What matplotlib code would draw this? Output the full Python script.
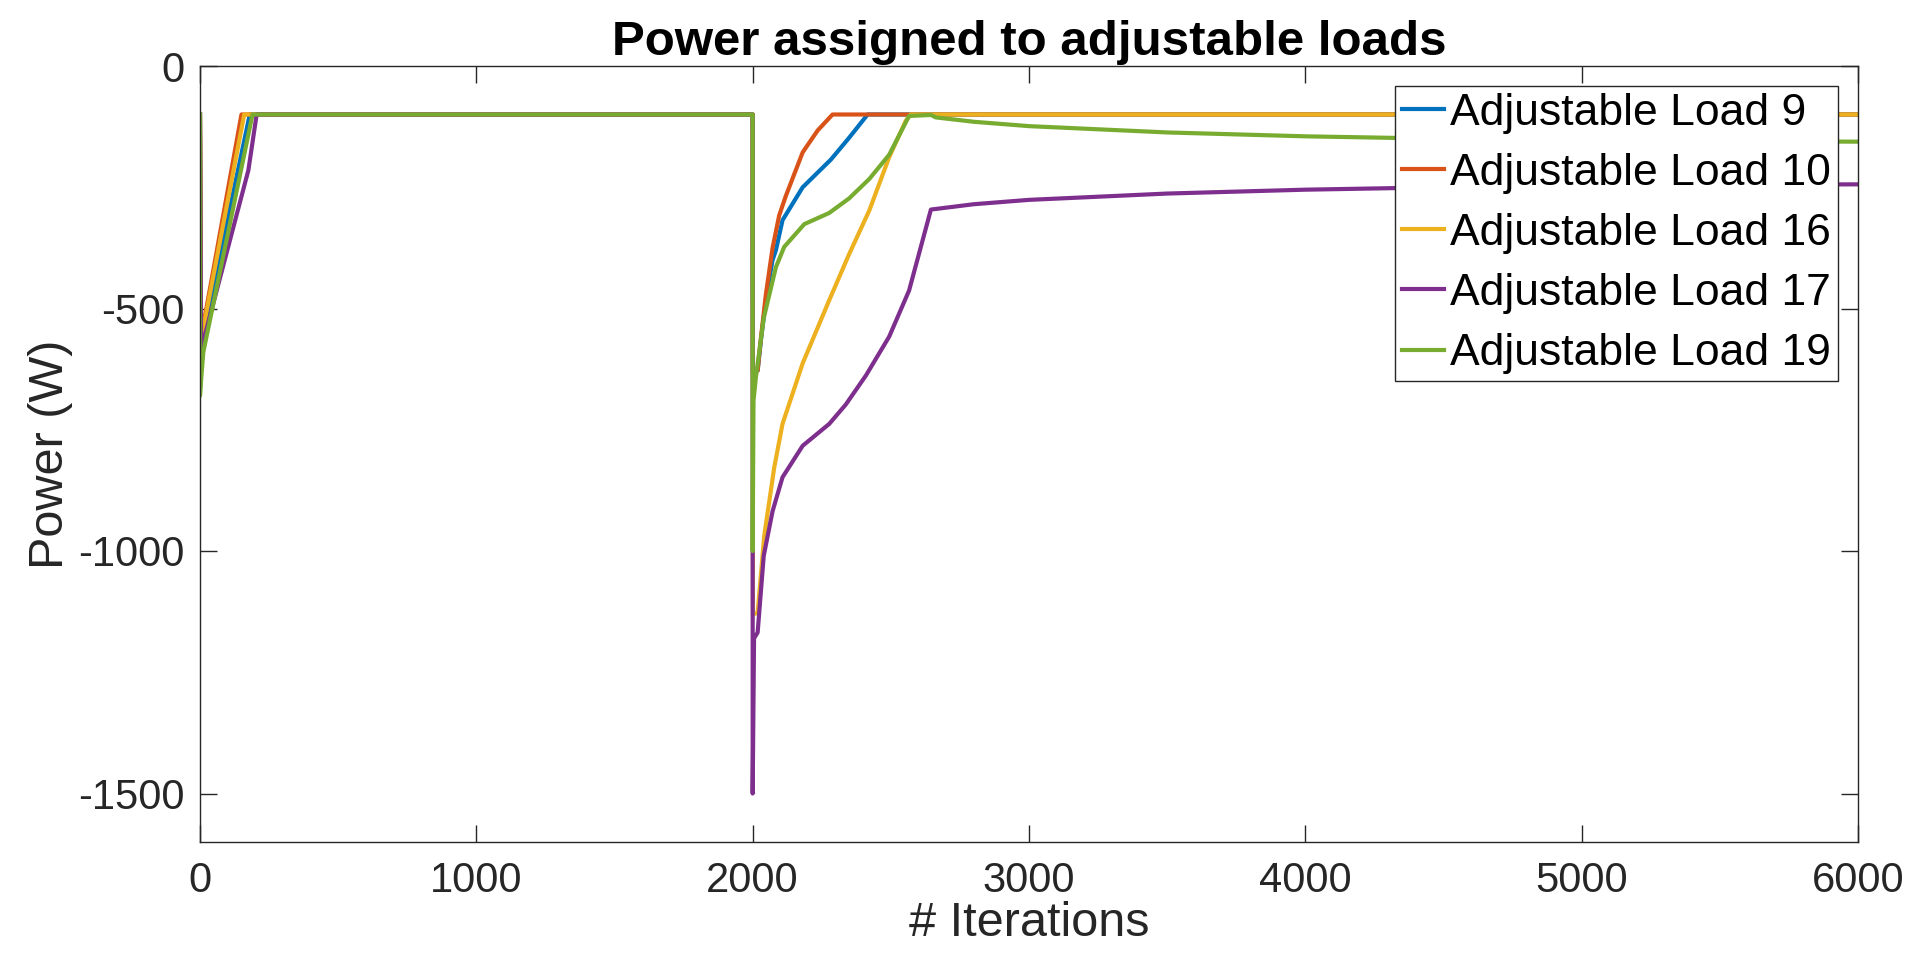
import matplotlib
matplotlib.use('Agg')
import matplotlib.pyplot as plt

plt.rcParams['font.family'] = ['Liberation Sans', 'DejaVu Sans']
plt.rcParams['axes.unicode_minus'] = False

# data
labels = ['Adjustable Load 9', 'Adjustable Load 10', 'Adjustable Load 16',
          'Adjustable Load 17', 'Adjustable Load 19']
colors = ['#0072BD', '#D95319', '#EDB120', '#7E2F8E', '#77AC30']

load9_x = [0, 4, 180, 2000, 2001, 2018, 2030, 2048, 2072, 2084, 2108, 2181, 2283, 2349, 2416, 6000]
load9_y = [-100, -575, -100, -100, -632, -628, -565, -480, -400, -380, -318, -250, -193, -148, -100, -100]

load10_x = [0, 4, 150, 2000, 2001, 2018, 2030, 2048, 2072, 2096, 2120, 2181, 2235, 2289, 6000]
load10_y = [-100, -560, -100, -100, -632, -628, -560, -470, -375, -308, -268, -178, -133, -100, -100]

load16_x = [0, 4, 160, 2000, 2001, 2018, 2042, 2078, 2108, 2181, 2277, 2349, 2422, 2494, 2554, 2572, 6000]
load16_y = [-100, -565, -100, -100, -1130, -1128, -968, -828, -738, -613, -483, -388, -298, -188, -113, -100, -100]

load17_x = [0, 4, 175, 205, 2000, 2000, 2005, 2018, 2040, 2072, 2108, 2181, 2277, 2337, 2410, 2494,
            2566, 2645, 2800, 3000, 3500, 4000, 4500, 5000, 5500, 6000]
load17_y = [-100, -585, -215, -100, -100, -1500, -1180, -1168, -1010, -918, -848, -783, -738, -698, -638, -558,
            -463, -296, -285, -276, -263, -255, -250, -247, -245, -244]

load19_x = [0, 0, 5, 12, 190, 2000, 2000, 2003, 2012, 2040, 2084, 2114, 2187, 2277, 2349, 2422, 2494,
            2566, 2645, 2663, 2800, 3000, 3500, 4000, 4500, 5000, 5500, 6000]
load19_y = [-100, -680, -640, -590, -100, -100, -1000, -690, -640, -520, -415, -373, -326, -303, -273, -233, -183,
            -103, -101, -106, -115, -124, -137, -145, -150, -153, -155, -156]

xs = [load9_x, load10_x, load16_x, load17_x, load19_x]
ys = [load9_y, load10_y, load16_y, load17_y, load19_y]

fig = plt.figure(figsize=(19.16, 9.69), dpi=100)
ax = fig.add_axes([200 / 1916, 127 / 969, 1658 / 1916, 776 / 969])

for x, y, c, lab in zip(xs, ys, colors, labels):
    ax.plot(x, y, color=c, lw=3.0, label=lab)

ax.set_xlim(0, 6000)
ax.set_ylim(-1600, 0)
ax.set_xticks([0, 1000, 2000, 3000, 4000, 5000, 6000])
ax.set_yticks([-1500, -1000, -500, 0])

dark = '#262626'
for s in ax.spines.values():
    s.set_color(dark)
    s.set_linewidth(1.0)
ax.tick_params(direction='in', length=12, width=1.0, colors=dark, labelsize=30,
               top=True, right=True)
ax.tick_params(axis='x', pad=14)
ax.tick_params(axis='y', pad=11)

ax.set_xlabel('# Iterations', fontsize=35, color=dark, labelpad=0)
ax.set_ylabel('Power (W)', fontsize=35, color=dark, labelpad=4)
ax.set_title('Power assigned to adjustable loads', fontsize=35.5, fontweight='bold', pad=8)

leg = ax.legend(loc='upper right', fontsize=32, frameon=True, fancybox=False, framealpha=1,
                edgecolor=dark, borderpad=0.15, labelspacing=0.43, handlelength=0.95,
                handletextpad=0.15, borderaxespad=0.45)
leg.get_frame().set_linewidth(1.0)
for h in leg.get_lines():
    h.set_linewidth(3.0)

plt.savefig('out.png', dpi=100)
